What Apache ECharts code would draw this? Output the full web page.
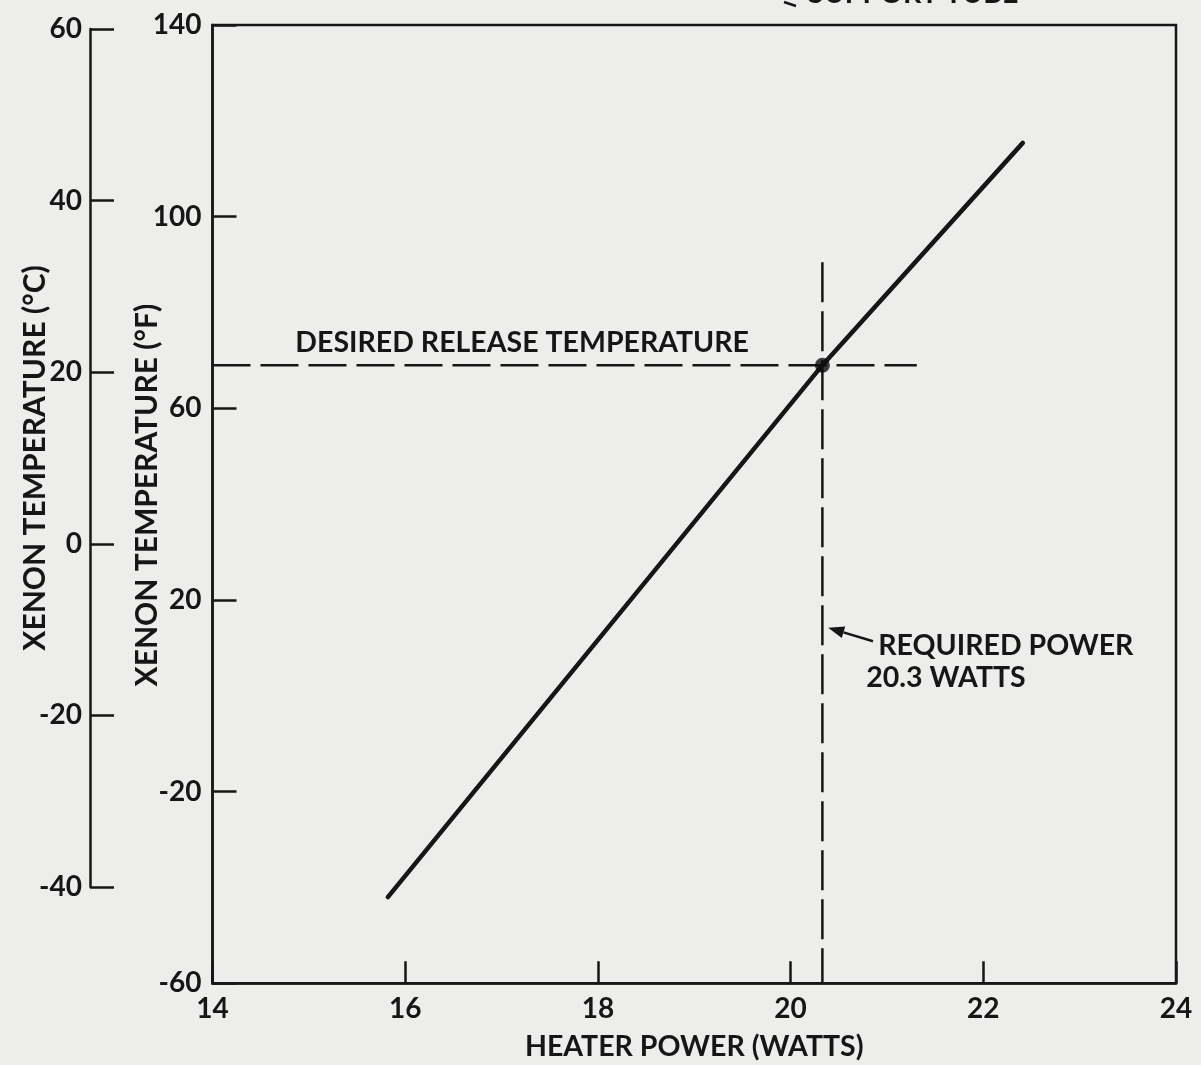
<!DOCTYPE html>
<html>
<head>
<meta charset="utf-8">
<title>Xenon temperature vs heater power</title>
<script src="https://cdn.jsdelivr.net/npm/echarts@6/dist/echarts.min.js"></script>
<style>
  html, body { margin: 0; padding: 0; background: #ededeb; }
  #chart { width: 1201px; height: 1065px; }
</style>
</head>
<body>
<div id="chart"></div>
<script>
// Heater power (W) vs xenon temperature (°F)
const powerW = [15.82, 20.33, 22.41];
const tempF = [-42, 69, 115.4];

// Operating point and guide lines
const requiredPowerW = 20.33;
const releaseTempF = 69;
const releaseLineEndW = 21.31;
const powerLineTopF = 90.5;

// Axis ticks
const wattTicks = [14, 16, 18, 20, 22, 24];
const fahrenheitTicks = [-60, -20, 20, 60, 100, 140];
const celsiusTicks = [-40, -20, 0, 20, 40, 60];

const INK = '#161616';
const FONT = 'Lato, "Noto Sans", sans-serif';

const chart = echarts.init(document.getElementById('chart'), null, { renderer: 'canvas' });

const tickText = { color: INK, fontFamily: FONT, fontSize: 28, fontWeight: 'bold' };
const xNameText = { color: INK, fontFamily: FONT, fontSize: 28.5, fontWeight: 'bold' };
const yNameText = { color: INK, fontFamily: FONT, fontSize: 30, fontWeight: 'bold' };

const option = {
  backgroundColor: '#ededeb',
  animation: false,
  grid: [
    { left: 212.5, top: 25, right: 25, bottom: 81.7, show: true, borderColor: INK, borderWidth: 2.5, backgroundColor: 'transparent', containLabel: false, outerBoundsMode: 'none' },
    { left: 90, top: 29, width: 1, height: 858, show: false, containLabel: false, outerBoundsMode: 'none' }
  ],
  xAxis: [
    {
      gridIndex: 0, type: 'value',
      min: wattTicks[0], max: wattTicks[wattTicks.length - 1],
      interval: wattTicks[1] - wattTicks[0],
      name: 'HEATER POWER (WATTS)', nameLocation: 'middle', nameGap: 49,
      nameMoveOverlap: false,
      nameTextStyle: xNameText,
      axisLine: { show: true, onZero: false, lineStyle: { color: INK, width: 2.5 } },
      axisTick: { show: true, inside: true, length: 22, lineStyle: { color: INK, width: 2.5 } },
      axisLabel: Object.assign({ margin: 12 }, tickText),
      splitLine: { show: false }
    },
    { gridIndex: 1, type: 'value', show: false, min: 0, max: 1 }
  ],
  yAxis: [
    {
      gridIndex: 0, type: 'value',
      min: fahrenheitTicks[0], max: fahrenheitTicks[fahrenheitTicks.length - 1],
      interval: fahrenheitTicks[1] - fahrenheitTicks[0],
      name: 'XENON TEMPERATURE (°F)', nameLocation: 'middle', nameGap: 50,
      nameMoveOverlap: false,
      nameTextStyle: Object.assign({ padding: [0, 0, 0, 18] }, yNameText),
      axisLine: { show: true, onZero: false, lineStyle: { color: INK, width: 2.5 } },
      axisTick: { show: true, inside: true, length: 24, lineStyle: { color: INK, width: 2.5 } },
      axisLabel: Object.assign({ margin: 11 }, tickText),
      splitLine: { show: false }
    },
    {
      gridIndex: 1, type: 'value',
      min: celsiusTicks[0], max: celsiusTicks[celsiusTicks.length - 1],
      interval: celsiusTicks[1] - celsiusTicks[0],
      name: 'XENON TEMPERATURE (°C)', nameLocation: 'middle', nameGap: 40,
      nameMoveOverlap: false,
      nameTextStyle: yNameText,
      axisLine: { show: true, onZero: false, lineStyle: { color: INK, width: 2.5 } },
      axisTick: { show: true, inside: true, length: 24, lineStyle: { color: INK, width: 2.5 } },
      axisLabel: Object.assign({ margin: 8 }, tickText),
      splitLine: { show: false }
    }
  ],
  series: [
    {
      name: 'Xenon temperature', type: 'line',
      xAxisIndex: 0, yAxisIndex: 0,
      data: powerW.map((w, i) => [w, tempF[i]]),
      symbol: 'none', smooth: false,
      lineStyle: { color: INK, width: 4.5, cap: 'round' },
      z: 5
    },
    {
      name: 'Desired release temperature', type: 'line',
      xAxisIndex: 0, yAxisIndex: 0,
      data: [[wattTicks[0], releaseTempF], [releaseLineEndW, releaseTempF]],
      symbol: 'none',
      lineStyle: { color: INK, width: 2.5, type: [38, 10] },
      z: 3
    },
    {
      name: 'Required power', type: 'line',
      xAxisIndex: 0, yAxisIndex: 0,
      data: [[requiredPowerW, powerLineTopF], [requiredPowerW, fahrenheitTicks[0]]],
      symbol: 'none',
      lineStyle: { color: INK, width: 2.5, type: [40, 9] },
      z: 3
    },
    {
      name: 'Operating point', type: 'scatter',
      xAxisIndex: 0, yAxisIndex: 0,
      data: [[requiredPowerW, releaseTempF]],
      symbol: 'circle', symbolSize: 15,
      itemStyle: { color: '#0c0c0c' },
      z: 6
    }
  ]
};

chart.setOption(option);

// Annotations anchored in data space
const px = (w, f) => chart.convertToPixel({ gridIndex: 0 }, [w, f]);
const labelDesired = px(14.86, releaseTempF);
const labelPower1 = px(20.91, 11.0);
const labelPower2 = px(20.785, 4.3);
const arrowTip = px(20.39, 14.2);
const arrowTail = px(20.855, 11.4);

const ang = Math.atan2(arrowTip[1] - arrowTail[1], arrowTip[0] - arrowTail[0]);
const headLen = 16, headHalf = 6;
const bx = arrowTip[0] - headLen * Math.cos(ang), by = arrowTip[1] - headLen * Math.sin(ang);
const nx = -Math.sin(ang) * headHalf, ny = Math.cos(ang) * headHalf;

const labelFont = 'bold 28.5px ' + FONT;

chart.setOption({
  graphic: [
    {
      type: 'text', x: labelDesired[0], y: labelDesired[1] - 22,
      style: { text: 'DESIRED RELEASE TEMPERATURE', fill: INK, font: labelFont, textAlign: 'left', textVerticalAlign: 'middle' }
    },
    {
      type: 'text', x: labelPower1[0], y: labelPower1[1] + 3,
      style: { text: 'REQUIRED POWER', fill: INK, font: labelFont, textAlign: 'left', textVerticalAlign: 'middle' }
    },
    {
      type: 'text', x: labelPower2[0], y: labelPower2[1] + 3,
      style: { text: '20.3 WATTS', fill: INK, font: labelFont, textAlign: 'left', textVerticalAlign: 'middle' }
    },
    {
      type: 'line',
      shape: { x1: arrowTail[0], y1: arrowTail[1], x2: bx, y2: by },
      style: { stroke: INK, lineWidth: 2.5 }
    },
    {
      type: 'polygon',
      shape: { points: [[arrowTip[0], arrowTip[1]], [bx + nx, by + ny], [bx - nx, by - ny]] },
      style: { fill: INK }
    },
    {
      type: 'text', x: 808, y: -6,
      style: { text: 'SUPPORT TUBE', fill: INK, font: labelFont, textAlign: 'left', textVerticalAlign: 'middle' }
    },
    {
      type: 'line',
      shape: { x1: 784, y1: 2, x2: 796, y2: 6 },
      style: { stroke: INK, lineWidth: 2.5 }
    }
  ]
});
</script>
</body>
</html>
